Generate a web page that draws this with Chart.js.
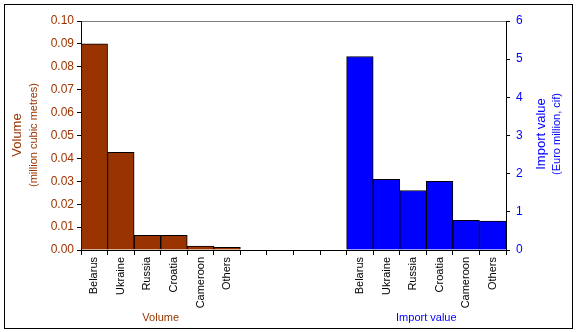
<!DOCTYPE html>
<html>
<head>
<meta charset="utf-8">
<script src="https://cdn.jsdelivr.net/npm/chart.js@4"></script>
<style>
  html, body { margin: 0; padding: 0; background: #fff; }
  #wrap { width: 577px; height: 332px; position: relative; }
</style>
</head>
<body>
<div id="wrap"><canvas id="chart" width="577" height="332"></canvas></div>
<script>
// data
const countries = ["Belarus", "Ukraine", "Russia", "Croatia", "Cameroon", "Others"];
const gapLabels = ["", "", "", ""];
const volumeValues = [0.090, 0.0427, 0.0064, 0.0064, 0.0017, 0.0012];
const importValues = [5.07, 1.85, 1.56, 1.80, 0.78, 0.76];
const volumeTicks = [0, 0.01, 0.02, 0.03, 0.04, 0.05, 0.06, 0.07, 0.08, 0.09, 0.10];
const importTicks = [0, 1, 2, 3, 4, 5, 6];

const BROWN = "#993300";
const BLUE = "#0000FF";
const FONT = "Liberation Sans, Arial, sans-serif";

let labels = countries.concat(gapLabels, countries);
let nulls = gapLabels.map(() => null);
let volData = volumeValues.concat(nulls, countries.map(() => null));
let impData = countries.map(() => null).concat(nulls, importValues);

// frame, axis titles and group captions
const decor = {
    id: "decor",
    afterDraw(chart) {
        let c = chart.ctx;
        let x = chart.scales.x;
        c.save();
        c.strokeStyle = "#000";
        c.lineWidth = 1;
        c.strokeRect(4.5, 4.5, 568, 324);

        // left title
        c.save();
        c.translate(17, 135);
        c.rotate(-Math.PI / 2);
        c.textAlign = "center";
        c.textBaseline = "middle";
        c.fillStyle = BROWN;
        c.font = "13px " + FONT;
        c.fillText("Volume", 0, 0);
        c.font = "11px " + FONT;
        c.fillText("(million cubic metres)", 0, 17);
        c.restore();

        // right title
        c.save();
        c.translate(541, 134);
        c.rotate(-Math.PI / 2);
        c.textAlign = "center";
        c.textBaseline = "middle";
        c.fillStyle = BLUE;
        c.font = "13px " + FONT;
        c.fillText("Import value", 0, 0);
        c.font = "11px " + FONT;
        c.fillText("(Euro million, cif)", 0, 16);
        c.restore();

        // captions under each group
        c.font = "11px " + FONT;
        c.textAlign = "center";
        c.textBaseline = "middle";
        let leftMid = (x.getPixelForValue(0) + x.getPixelForValue(5)) / 2;
        let rightMid = (x.getPixelForValue(10) + x.getPixelForValue(15)) / 2;
        c.fillStyle = BROWN;
        c.fillText("Volume", leftMid, 318);
        c.fillStyle = BLUE;
        c.fillText("Import value", rightMid, 318);
        c.restore();
    }
};

let ctx = document.getElementById("chart").getContext("2d");

let chart = new Chart(ctx, {
    type: "bar",
    data: {
        labels: labels,
        datasets: [{
            label: "Volume",
            data: volData,
            yAxisID: "y",
            backgroundColor: BROWN,
            borderColor: "#000",
            borderWidth: 1,
            borderSkipped: "bottom",
            grouped: false,
            categoryPercentage: 1,
            barPercentage: 1
        }, {
            label: "Import value",
            data: impData,
            yAxisID: "y2",
            backgroundColor: BLUE,
            borderColor: "#000",
            borderWidth: 1,
            borderSkipped: "bottom",
            grouped: false,
            categoryPercentage: 1,
            barPercentage: 1
        }]
    },
    options: {
        responsive: false,
        animation: false,
        layout: { padding: { top: 21, left: 0, right: 0, bottom: 0 } },
        plugins: {
            legend: { display: false },
            tooltip: { enabled: false }
        },
        scales: {
            x: {
                offset: true,
                grid: { offset: true, drawOnChartArea: false, color: "#000", tickLength: 5 },
                border: { color: "#000" },
                ticks: {
                    color: "#000",
                    autoSkip: false,
                    minRotation: 90,
                    maxRotation: 90,
                    padding: 2,
                    font: { family: FONT, size: 11 }
                },
                afterFit: s => { s.height = 82; }
            },
            y: {
                position: "left",
                min: 0,
                max: 0.10,
                afterBuildTicks: s => { s.ticks = volumeTicks.map(v => ({ value: v })); },
                grid: {
                    color: c => (c.tick && c.tick.value === 0.10) ? "#808080" : "transparent",
                    tickColor: "#000",
                    tickLength: 4
                },
                border: { color: "#000" },
                ticks: {
                    color: BROWN,
                    padding: 3,
                    font: { family: FONT, size: 12 },
                    callback: v => Number(v).toFixed(2)
                },
                afterFit: s => { s.width = 81; }
            },
            y2: {
                position: "right",
                min: 0,
                max: 6,
                afterBuildTicks: s => { s.ticks = importTicks.map(v => ({ value: v })); },
                grid: { drawOnChartArea: false, color: "#000", tickLength: 4 },
                border: { color: "#000" },
                ticks: {
                    color: BLUE,
                    padding: 6,
                    font: { family: FONT, size: 12 }
                },
                afterFit: s => { s.width = 71; }
            }
        }
    },
    plugins: [decor]
});
</script>
</body>
</html>
